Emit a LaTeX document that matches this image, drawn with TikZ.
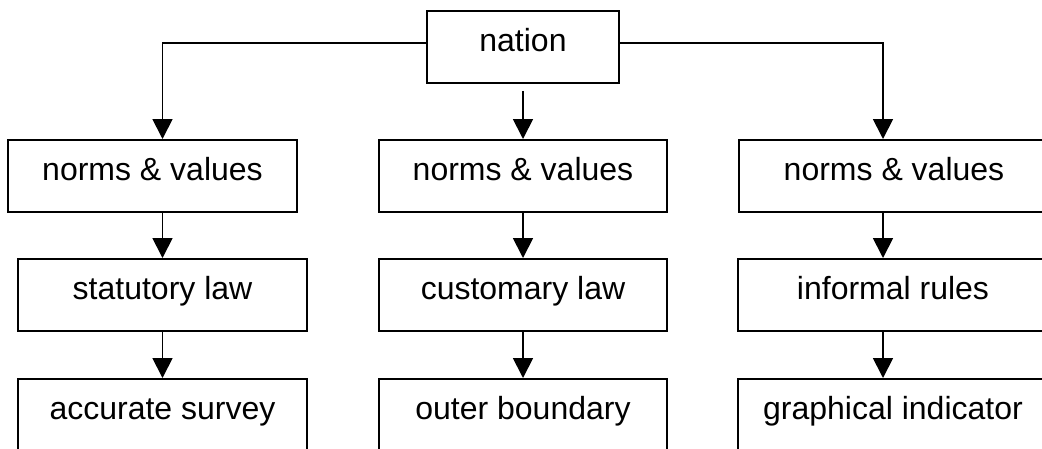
\documentclass[tikz,border=0pt]{standalone}
\usepackage{fontspec}
\setmainfont{Liberation Sans}
\usetikzlibrary{arrows.meta}
\begin{document}
\begin{tikzpicture}[x=1pt,y=-1pt,
  box/.style={draw, line width=1.8pt, rectangle, inner xsep=0pt, inner ysep=0pt,
    text height=41pt, text depth=31pt, anchor=north,
    font=\fontsize{32}{38}\selectfont},
  link/.style={line width=1.8pt, -{Triangle[length=20pt,width=20pt]}}]
\useasboundingbox (0,0) rectangle (1042,448);

% top level
\node[box, minimum width=192pt] (nation) at (523,10) {nation};

% first row
\node[box, minimum width=289pt] (nv1) at (152.5,139) {norms \& values};
\node[box, minimum width=288pt] (nv2) at (523,139) {norms \& values};
\node[box, minimum width=310pt] (nv3) at (894,139) {norms \& values};

% second row
\node[box, minimum width=289pt] (sl) at (162.5,258) {statutory law};
\node[box, minimum width=288pt] (cl) at (523,258) {customary law};
\node[box, minimum width=310pt] (ir) at (893,258) {informal rules};

% third row
\node[box, minimum width=289pt] (as) at (162.5,378) {accurate survey};
\node[box, minimum width=288pt] (ob) at (523,378) {outer boundary};
\node[box, minimum width=310pt] (gi) at (893,378) {graphical indicator};

% connectors
\draw[link] ([yshift=4pt]nation.west) -| (sl.north |- nv1.north);
\draw[link] ([yshift=-7pt]nation.south) -- (nv2.north);
\draw[link] ([yshift=4pt]nation.east) -| (883,0 |- nv3.north);

\draw[link] (sl.north |- nv1.south) -- (sl.north);
\draw[link] (nv2.south) -- (cl.north);
\draw[link] (883,0 |- nv3.south) -- (883,0 |- ir.north);

\draw[link] (sl.south) -- (as.north);
\draw[link] (cl.south) -- (ob.north);
\draw[link] (883,0 |- ir.south) -- (883,0 |- gi.north);
\end{tikzpicture}
\end{document}
